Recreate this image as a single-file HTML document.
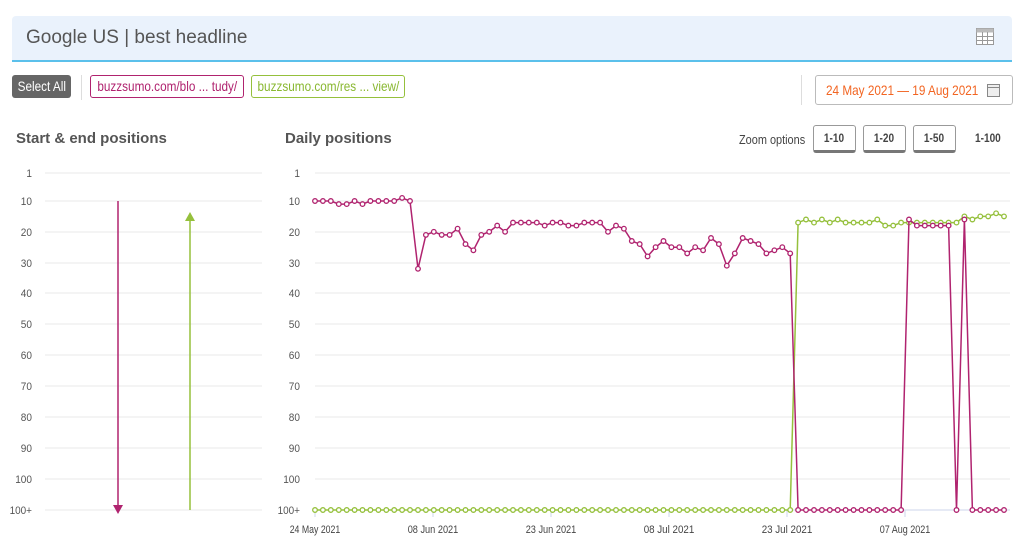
<!DOCTYPE html>
<html><head><meta charset="utf-8"><style>
body{margin:0;width:1024px;height:541px;background:#fff;font-family:"Liberation Sans",sans-serif;overflow:hidden;position:relative}
div{white-space:nowrap}
.n{display:inline-block;transform:scaleX(.84);transform-origin:center}
.hdr{position:absolute;left:12px;top:16px;width:1000px;height:44px;background:#eaf2fc;border-bottom:2px solid #5bc0eb;border-radius:4px 4px 0 0}
.hdr span{position:absolute;left:14px;top:11px;font-size:19px;color:#555}
.btn{position:absolute;font-size:14px;border-radius:3px;box-sizing:border-box;text-align:center;overflow:hidden}
.ttl{position:absolute;font-weight:bold;font-size:15px;color:#555}
.zb{position:absolute;top:125px;width:43px;height:28px;border:1px solid #999;border-bottom:3px solid #777;border-radius:3px;box-sizing:border-box;font-size:12px;font-weight:bold;color:#444;text-align:center;line-height:24px}
</style></head><body>
<div class="hdr"><span>Google US | best headline</span>
<svg style="position:absolute;right:18px;top:12px" width="18" height="17"><rect x="0.5" y="0.5" width="17" height="16" fill="#fff" stroke="#999"/><rect x="0.5" y="0.5" width="17" height="4" fill="#bbb"/><path d="M0 8.5H18M0 12.5H18M6.5 4V17M11.5 4V17" stroke="#999"/></svg></div>
<div class="btn" style="left:12px;top:75px;width:59px;height:23px;background:#666;color:#fff;line-height:23px;font-size:14px"><span class="n">Select All</span></div>
<div style="position:absolute;left:81px;top:75px;width:1px;height:25px;background:#ddd"></div>
<div class="btn" style="left:90px;top:75px;width:154px;height:23px;border:1px solid #b0236f;color:#b0236f;line-height:21px"><span class="n" style="margin-left:-20px;margin-right:-20px">buzzsumo.com/blo ... tudy/</span></div>
<div class="btn" style="left:251px;top:75px;width:154px;height:23px;border:1px solid #95c03c;color:#8ab832;line-height:21px"><span class="n" style="margin-left:-20px;margin-right:-20px">buzzsumo.com/res ... view/</span></div>
<div style="position:absolute;left:801px;top:75px;width:1px;height:30px;background:#ddd"></div>
<div class="btn" style="left:815px;top:75px;width:198px;height:30px;border:1px solid #bbb;color:#f26522;line-height:28px;text-align:left;font-size:14px"><span class="n" style="transform-origin:left;margin-left:10px">24 May 2021 — 19 Aug 2021</span></div>
<svg style="position:absolute;left:987px;top:84px" width="13" height="13"><rect x="0.5" y="0.5" width="12" height="12" fill="#eee" stroke="#888"/><path d="M0 3.5H13" stroke="#888"/></svg>
<div class="ttl" style="left:16px;top:130px">Start &amp; end positions</div>
<div class="ttl" style="left:285px;top:130px">Daily positions</div>
<div style="position:absolute;left:739px;top:132px;font-size:13px;color:#444"><span class="n" style="transform-origin:left">Zoom options</span></div>
<div class="zb" style="left:813px"><span class="n">1-10</span></div><div class="zb" style="left:863px"><span class="n">1-20</span></div><div class="zb" style="left:913px"><span class="n">1-50</span></div>
<div style="position:absolute;left:975px;top:131px;font-size:12px;font-weight:bold;color:#444"><span class="n" style="transform-origin:left">1-100</span></div>
<svg id="c" style="position:absolute;left:0;top:0" width="1024" height="541"></svg>
<script>
var s='';
var labs=[[1,173],[10,201],[20,232],[30,263],[40,293],[50,324],[60,355],[70,386],[80,417],[90,448],[100,479],['100+',510]];
labs.forEach(function(l){
 s+='<line x1="45" x2="262" y1="'+l[1]+'" y2="'+l[1]+'" stroke="#e8e8e8"/>';
 s+='<line x1="315" x2="1010" y1="'+l[1]+'" y2="'+l[1]+'" stroke="#e8e8e8"/>';
 var w=(''+l[0]).length*5.6;
 s+='<text x="'+(32-w)+'" y="'+(l[1]+4)+'" font-size="11" fill="#555" textLength="'+w+'" lengthAdjust="spacingAndGlyphs">'+l[0]+'</text>';
 s+='<text x="'+(300-w)+'" y="'+(l[1]+4)+'" font-size="11" fill="#555" textLength="'+w+'" lengthAdjust="spacingAndGlyphs">'+l[0]+'</text>';
});
s+='<line x1="315" x2="1010" y1="510" y2="510" stroke="#ccd6eb"/>';
var dl=['24 May 2021','08 Jun 2021','23 Jun 2021','08 Jul 2021','23 Jul 2021','07 Aug 2021'];
dl.forEach(function(d,i){var x=315+118*i;var w=d.length*4.6;s+='<line x1="'+x+'" x2="'+x+'" y1="510" y2="517" stroke="#ccd6eb"/><text x="'+(x-w/2)+'" y="533" font-size="11" fill="#444" textLength="'+w+'" lengthAdjust="spacingAndGlyphs">'+d+'</text>';});
s+='<line x1="118" x2="118" y1="201" y2="506" stroke="#b0236f" stroke-width="1.5"/><path d="M113 505L123 505L118 514Z" fill="#b0236f"/>';
s+='<line x1="190" x2="190" y1="218" y2="510" stroke="#95c03c" stroke-width="1.5"/><path d="M185 221L195 221L190 212Z" fill="#95c03c"/>';
var P=999;
var m=[10,10,10,11,11,10,11,10,10,10,10,9,10,32,21,20,21,21,19,24,26,21,20,18,20,17,17,17,17,18,17,17,18,18,17,17,17,20,18,19,23,24,28,25,23,25,25,27,25,26,22,24,31,27,22,23,24,27,26,25,27];
for(var i=61;i<=74;i++)m.push(P);
m.push(16,18,18,18,18,18,P,16,P,P,P,P,P);
var g=[];for(i=0;i<=60;i++)g.push(P);
g=g.concat([17,16,17,16,17,16,17,17,17,17,16,18,18,17,17,17,17,17,17,17,17,15,16,15,15,14,15]);
function X(i){return 315+i*7.92}
function Y(v){return v==P?510:201+(v-10)*3.08}
function ser(a,c){var p='';a.forEach(function(v,i){p+=(i?'L':'M')+X(i).toFixed(1)+' '+Y(v).toFixed(1)});
 var r='<path d="'+p+'" fill="none" stroke="'+c+'" stroke-width="1.5"/>';
 a.forEach(function(v,i){r+='<circle cx="'+X(i).toFixed(1)+'" cy="'+Y(v).toFixed(1)+'" r="2.3" fill="#fff" stroke="'+c+'" stroke-width="1.3"/>'});return r;}
s+=ser(g,'#95c03c')+ser(m,'#b0236f');
document.getElementById('c').innerHTML=s;
</script>
</body></html>
